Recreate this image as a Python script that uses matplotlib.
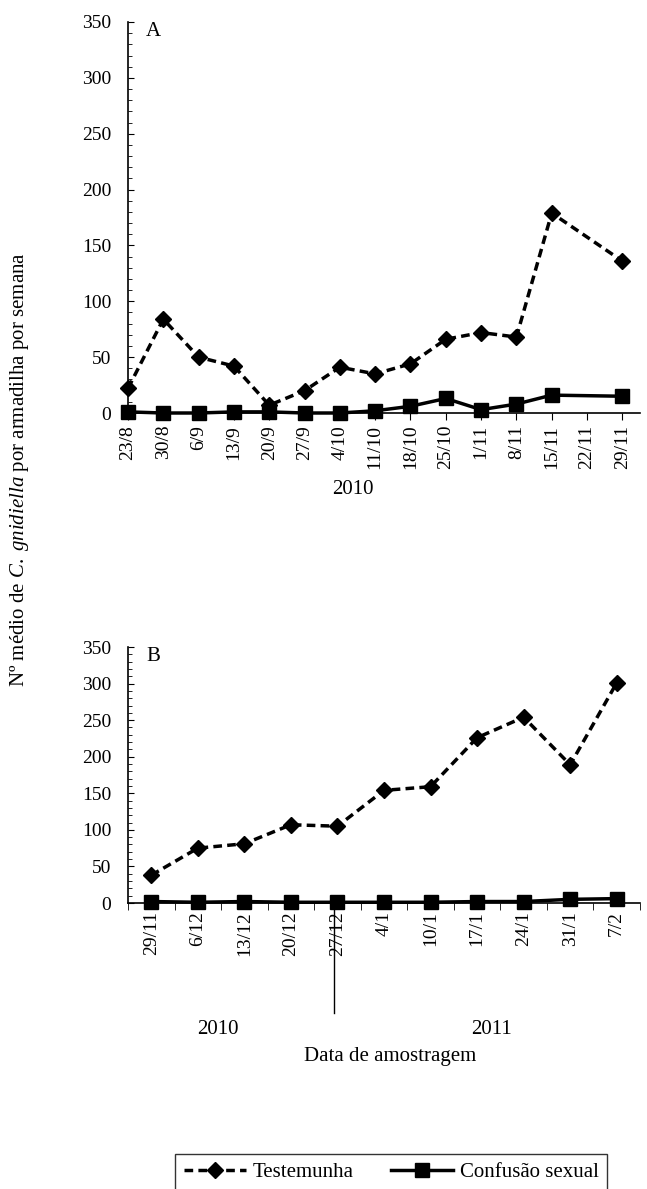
import matplotlib
matplotlib.use("Agg")
import matplotlib.pyplot as plt
from matplotlib.lines import Line2D

plt.rcParams['font.family'] = ['Liberation Serif', 'DejaVu Serif']
plt.rcParams['font.size'] = 14
plt.rcParams['mathtext.fontset'] = 'custom'
plt.rcParams['mathtext.rm'] = 'Liberation Serif'
plt.rcParams['mathtext.it'] = 'Liberation Serif:italic'

datesA = ["23/8","30/8","6/9","13/9","20/9","27/9","4/10","11/10","18/10","25/10","1/11","8/11","15/11","22/11","29/11"]
testA = [22,84,50,42,7,20,41,35,44,66,72,68,179,None,136]
confA = [1,0,0,1,1,0,0,2,6,13,3,8,16,None,15]

datesB = ["29/11","6/12","13/12","20/12","27/12","4/1","10/1","17/1","24/1","31/1","7/2"]
testB = [38,75,81,107,105,154,159,226,254,189,301]
confB = [2,1,2,1,1,1,1,2,2,5,6]

W, H = 647, 1189
fig = plt.figure(figsize=(W/100, H/100), dpi=100)

def style(ax):
    for s in ['top','right']:
        ax.spines[s].set_visible(False)
    ax.spines['left'].set_linewidth(1.2)
    ax.spines['bottom'].set_linewidth(1.2)
    ax.set_ylim(0, 350)
    ax.set_yticks(range(0, 351, 50))
    ax.tick_params(axis='y', direction='in', length=4, labelsize=14, pad=12)
    ax.tick_params(axis='x', direction='out', length=5, labelsize=14)
    ax.set_yticks(range(0, 351, 10), minor=True)
    ax.tick_params(axis='y', which='minor', direction='in', length=3)

def draw(ax, xs, t, c):
    xt = [x for x, v in zip(xs, t) if v is not None]
    vt = [v for v in t if v is not None]
    xc = [x for x, v in zip(xs, c) if v is not None]
    vc = [v for v in c if v is not None]
    ax.plot(xc, vc, '-', color='black', lw=2.5, marker='s', ms=10, clip_on=False, zorder=3)
    ax.plot(xt, vt, '--', color='black', lw=2.5, marker='D', ms=8, dashes=(2.5, 1.5), clip_on=False, zorder=4)

axA = fig.add_axes([128/W, 1-413/H, 512/W, 391/H])
style(axA)
xA = list(range(len(datesA)))
draw(axA, xA, testA, confA)
axA.set_xlim(0, 14.5)
axA.set_xticks(xA)
axA.set_xticklabels(datesA, rotation=90)
axA.text(0.035, 1.0, "A", transform=axA.transAxes, fontsize=15, va='top')
fig.text(353/W, 1-489/H, "2010", ha='center', va='center', fontsize=15)

axB = fig.add_axes([128/W, 1-903/H, 512/W, 256/H])
style(axB)
xB = list(range(len(datesB)))
draw(axB, xB, testB, confB)
axB.set_xlim(-0.38, 10.38)
axB.set_xticks(xB)
axB.set_xticklabels(datesB, rotation=90)
axB.tick_params(axis='x', length=0, pad=6)
axB.set_xticks([i + 0.5 for i in range(-1, 11)], minor=True)
axB.tick_params(axis='x', which='minor', direction='out', length=5)
axB.text(0.035, 1.0, "B", transform=axB.transAxes, fontsize=15, va='top')
axB.plot([3.93, 3.93], [0, -0.43], transform=axB.get_xaxis_transform(), color='black', lw=1, clip_on=False)
fig.text(218/W, 1-1030/H, "2010", ha='center', va='center', fontsize=15)
fig.text(492/W, 1-1030/H, "2011", ha='center', va='center', fontsize=15)
fig.text(390/W, 1-1056/H, "Data de amostragem", ha='center', va='center', fontsize=15)

fig.text(20/W, 1-470/H, r"Nº médio de $\mathit{C.\ gnidiella}$ por armadilha por semana",
         rotation=90, ha='center', va='center', fontsize=15)

handles = [Line2D([], [], color='black', ls='--', lw=2.5, marker='D', ms=8, dashes=(2.5, 1.5)),
           Line2D([], [], color='black', ls='-', lw=2.5, marker='s', ms=10)]
leg = fig.legend(handles, ["Testemunha", "Confusão sexual"], loc='center',
                 bbox_to_anchor=(391/W, 1-1172/H), ncol=2, frameon=True, fancybox=False,
                 edgecolor='black', fontsize=15, handlelength=3, handletextpad=0.3,
                 columnspacing=1.8, borderpad=0.4, borderaxespad=0)
leg.get_frame().set_linewidth(1)

fig.savefig("out.png", dpi=100)
